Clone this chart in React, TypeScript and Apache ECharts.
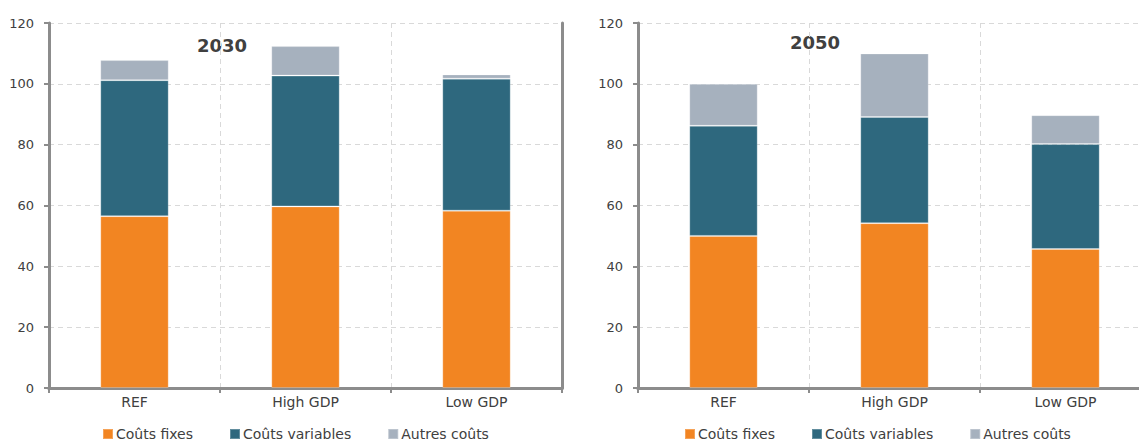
import React, { useEffect, useRef } from "react";
import * as echarts from "echarts";

const categories = ["REF", "High GDP", "Low GDP"];
const seriesNames = ["Coûts fixes", "Coûts variables", "Autres coûts"];
const fixes2030 = [56.5, 59.7, 58.3];
const variables2030 = [44.7, 43.0, 43.4];
const autres2030 = [6.6, 9.7, 1.4];
const fixes2050 = [50.0, 54.2, 45.7];
const variables2050 = [36.2, 34.9, 34.5];
const autres2050 = [13.8, 20.9, 9.5];
const titles = ["2030", "2050"];
const yTicks = { min: 0, max: 120, interval: 20 };

const colors = ["#F28522", "#2E687E", "#A6B1BE"];
const FONT = "DejaVu Sans";

export default function App() {
  const ref = useRef<HTMLDivElement>(null);
  useEffect(() => {
    if (!ref.current) return;
    const chart = echarts.init(ref.current, null, { renderer: "svg" });
    const grids = [
      { left: 49, top: 23, width: 513, height: 365 },
      { left: 638, top: 23, width: 513, height: 365 },
    ];
    const axisLineStyle = { color: "#8C8C8C", width: 3 };
    const xAxes: any[] = [];
    const yAxes: any[] = [];
    grids.forEach((_, i) => {
      xAxes.push({
        type: "category",
        gridIndex: i,
        data: categories,
        axisLine: { lineStyle: axisLineStyle },
        axisTick: { show: true, length: 5, lineStyle: { color: "#8C8C8C", width: 2 } },
        axisLabel: { color: "#404040", fontFamily: FONT, fontSize: 14, margin: 7 },
        splitLine: { show: true, lineStyle: { color: "#D9D9D9", type: [5, 4], width: 1 } },
      });
      xAxes.push({
        type: "category",
        gridIndex: i,
        position: "top",
        data: categories,
        axisLine: { lineStyle: axisLineStyle },
        axisTick: { show: false },
        axisLabel: { show: false },
        splitLine: { show: false },
      });
      yAxes.push({
        type: "value",
        gridIndex: i,
        min: yTicks.min,
        max: yTicks.max,
        interval: yTicks.interval,
        axisLine: { show: true, lineStyle: axisLineStyle },
        axisTick: { show: true, length: 5, lineStyle: { color: "#8C8C8C", width: 2 } },
        axisLabel: { color: "#404040", fontFamily: FONT, fontSize: 13, margin: 15 },
        splitLine: { show: true, lineStyle: { color: "#D9D9D9", type: [5, 4], width: 1 } },
      });
      yAxes.push({
        type: "value",
        gridIndex: i,
        position: "right",
        min: yTicks.min,
        max: yTicks.max,
        interval: yTicks.interval,
        axisLine: { show: true, lineStyle: axisLineStyle },
        axisTick: { show: false },
        axisLabel: { show: false },
        splitLine: { show: false },
      });
    });
    const data = [
      [fixes2030, variables2030, autres2030],
      [fixes2050, variables2050, autres2050],
    ];
    const series: any[] = [];
    data.forEach((group, gi) => {
      group.forEach((vals, si) => {
        series.push({
          type: "bar",
          name: seriesNames[si],
          xAxisIndex: gi * 2,
          yAxisIndex: gi * 2,
          stack: "s" + gi,
          barWidth: "40%",
          data: vals,
          itemStyle: { color: colors[si], borderColor: "rgba(255,255,255,0.25)", borderWidth: 1 },
        });
      });
    });
    chart.setOption({
      animation: false,
      grid: grids.map((g) => ({ ...g, outerBoundsMode: "none", containLabel: false })),
      xAxis: xAxes,
      yAxis: yAxes,
      series,
      legend: [
        { left: 102, top: 427 },
        { left: 684, top: 427 },
      ].map((p) => ({
        ...p,
        padding: 0,
        data: seriesNames,
        icon: "rect",
        itemWidth: 10,
        itemHeight: 10,
        itemGap: 36,
        selectedMode: false,
        textStyle: { color: "#404040", fontFamily: FONT, fontSize: 14, lineHeight: 14, padding: [0, 0, 0, -2] },
      })),
      graphic: [
        { type: "text", left: 197, top: 36, style: { text: titles[0], font: `bold 18px '${FONT}'`, fill: "#404040" } },
        { type: "text", left: 790, top: 33, style: { text: titles[1], font: `bold 18px '${FONT}'`, fill: "#404040" } },
      ],
    });
    return () => chart.dispose();
  }, []);
  return (
    <div
      ref={ref}
      style={{ position: "fixed", left: 0, top: 0, width: 1139, height: 444, background: "#fff" }}
    />
  );
}
